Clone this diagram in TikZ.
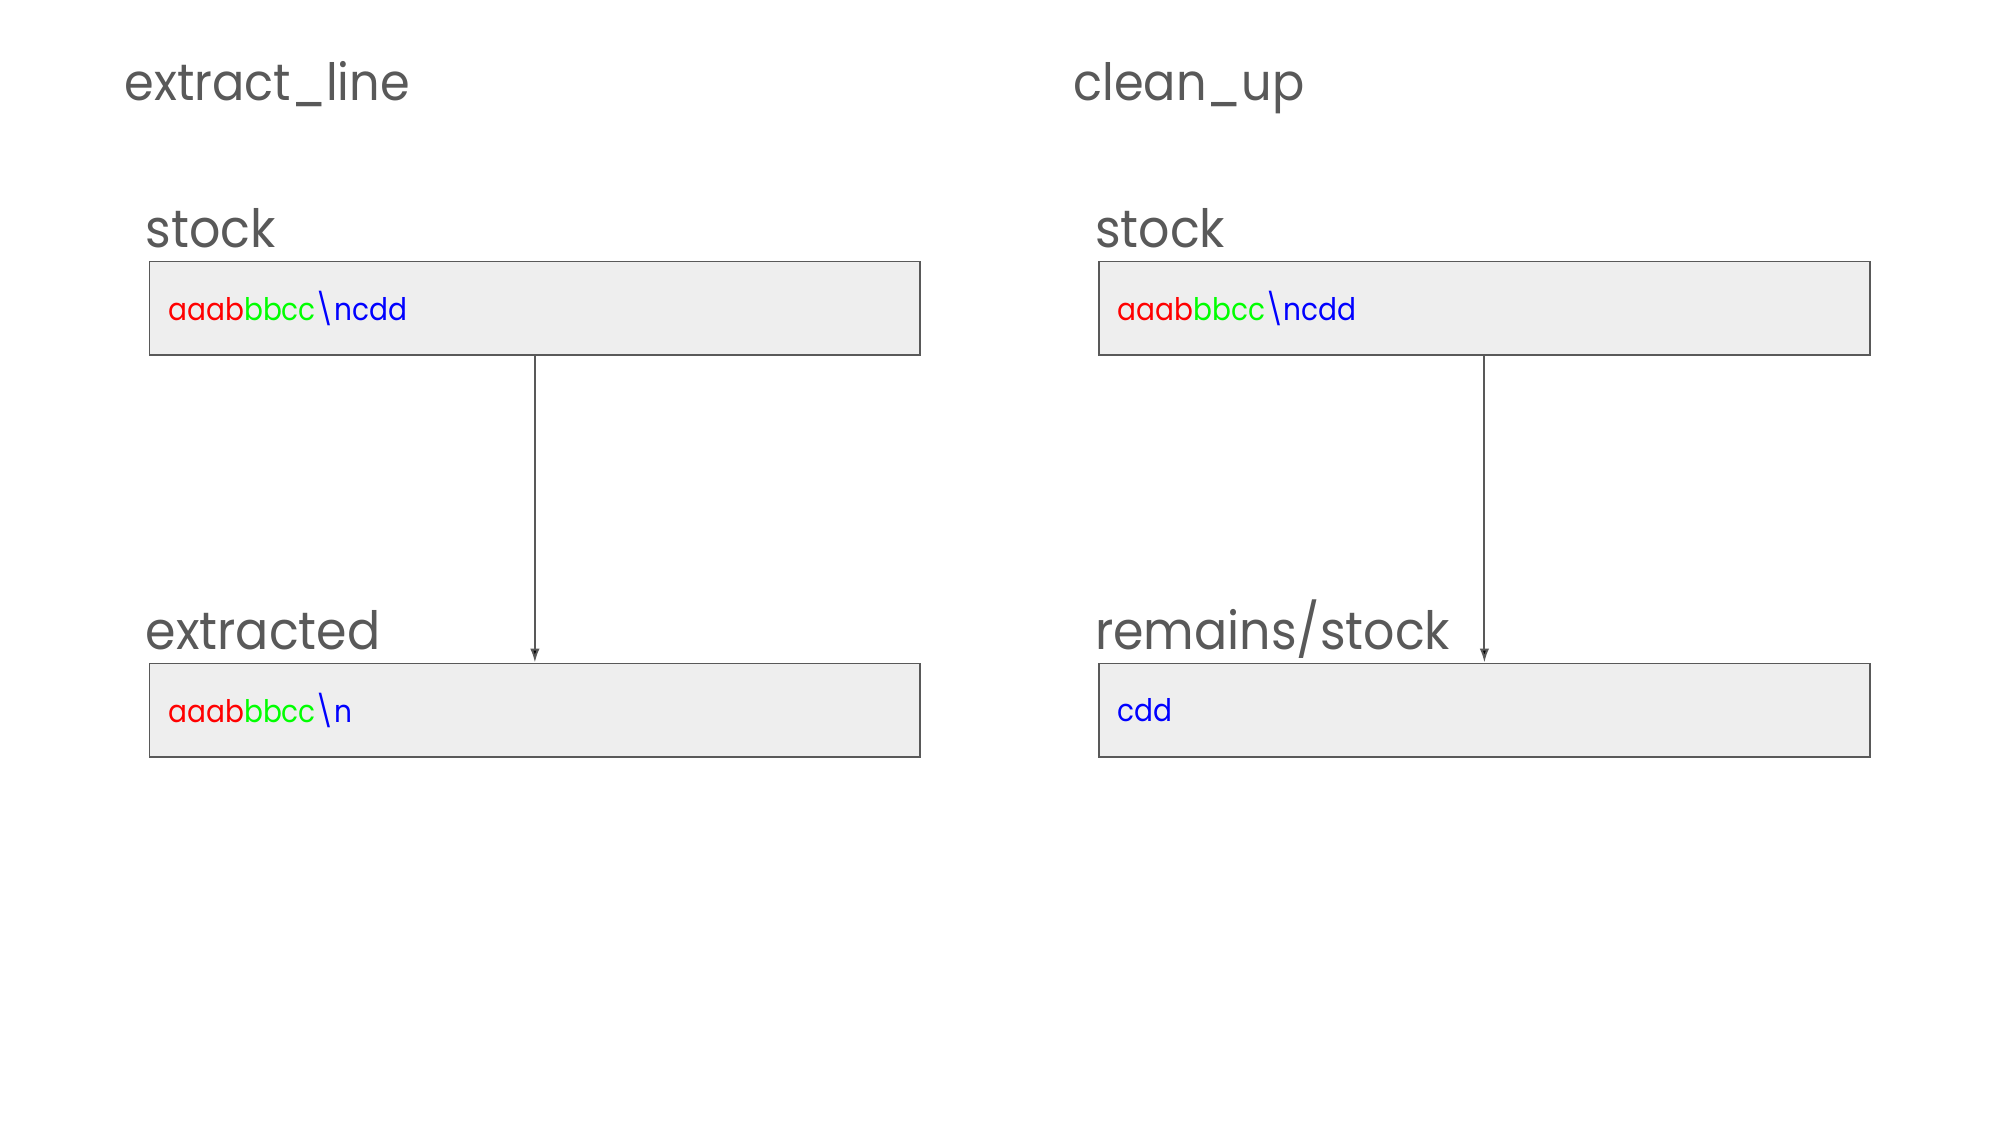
\documentclass[tikz,border=0pt]{standalone}
\usepackage{fontspec}
\setmainfont{Poppins}
\newfontfamily\lblfont{Poppins}[FakeStretch=0.93]
\newfontfamily\buffont{Poppins}[FakeStretch=0.9]
\usetikzlibrary{arrows.meta}

\definecolor{txtgray}{HTML}{595959}
\definecolor{boxfill}{HTML}{EEEEEE}
\definecolor{cred}{HTML}{FF0000}
\definecolor{cgreen}{HTML}{00FF00}
\definecolor{cblue}{HTML}{0000FF}

\tikzset{
  buf/.style={shape=rectangle,draw=txtgray,fill=boxfill,line width=0.7pt,
    minimum width=277.5pt,minimum height=33.5pt,inner xsep=6.8pt,
    text width=277.5pt-13.6pt,align=left,anchor=north west,
    font=\buffont\fontsize{11.2}{14}\selectfont},
  lbl/.style={anchor=base west,inner sep=0pt,text=txtgray,
    font=\lblfont\fontsize{19}{23}\selectfont},
  ttl/.style={anchor=base west,inner sep=0pt,text=txtgray,
    font=\lblfont\fontsize{18.5}{23}\selectfont}
}

\begin{document}
\begin{tikzpicture}[x=0.36pt,y=-0.36pt,>={Latex[length=5pt,width=3.4pt]}]
	    \useasboundingbox (0,0) rectangle (2000,1125);

	    \node[ttl] (T1) at (124,100.5) {extract\_line};
	    \node[ttl] (T2) at (1073,100.5) {clean\_up};

	    \node[buf] (A) at (148.5,260.5) {\textcolor{cred}{aaab}\textcolor{cgreen}{bbcc}\textcolor{cblue}{\textbackslash ncdd}};
	    \node[buf] (B) at (148.5,662.5) {\textcolor{cred}{aaab}\textcolor{cgreen}{bbcc}\textcolor{cblue}{\textbackslash n}};
	    \node[buf] (C) at (1098,260.5) {\textcolor{cred}{aaab}\textcolor{cgreen}{bbcc}\textcolor{cblue}{\textbackslash ncdd}};
	    \node[buf] (D) at (1098,662.5) {\textcolor{cblue}{cdd}};

	    \node[lbl] (LA) at ([xshift=-1.2pt,yshift=4.7pt]A.north west) {stock};
	    \node[lbl] (LB) at ([xshift=-1.2pt,yshift=4.7pt]B.north west) {extracted};
	    \node[lbl] (LC) at ([xshift=-1.2pt,yshift=4.7pt]C.north west) {stock};
	    \node[lbl] (LD) at ([xshift=-1.2pt,yshift=4.7pt]D.north west) {remains/stock};

	    \path [->,draw=txtgray,line width=0.7pt] (A) edge (B);
	    \path [->,draw=txtgray,line width=0.7pt] (C) edge (D);
	\end{tikzpicture}
\end{document}
